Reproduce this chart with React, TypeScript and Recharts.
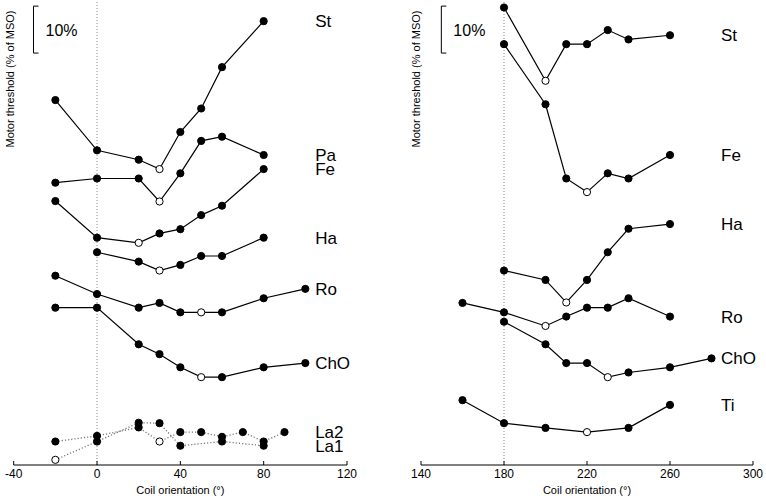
import React from 'react';
import { LineChart, Line, XAxis, YAxis, ReferenceLine, ReferenceDot } from 'recharts';

// Coil orientation (deg) for each series
const leftAnglesMain = [-20, 0, 20, 30, 40, 50, 60, 80];
const leftAnglesHa = [0, 20, 30, 40, 50, 60, 80];
const leftAnglesRoChO = [-20, 0, 20, 30, 40, 50, 60, 80, 100];
const leftAnglesLa2 = [-20, 0, 20, 30, 40, 50, 60, 70, 80, 90];
const leftAnglesLa1 = [-20, 0, 20, 30, 40, 60, 80];

const rightAnglesMain = [180, 200, 210, 220, 230, 240, 260];
const rightAnglesRo = [160, 180, 200, 210, 220, 230, 240, 260];
const rightAnglesChO = [180, 200, 210, 220, 230, 240, 260, 280];
const rightAnglesTi = [160, 180, 200, 220, 240, 260];

// Motor threshold (% of MSO), curves offset vertically
const leftSt = [77.7, 67.0, 65.0, 63.0, 70.9, 75.9, 84.7, 94.5];
const leftPa = [60.1, 61.0, 61.0, 56.1, 62.1, 69.0, 69.9, 66.0];
const leftFe = [56.2, 48.4, 47.3, 49.3, 50.2, 53.2, 55.2, 63.0];
const leftHa = [45.3, 43.3, 41.4, 42.6, 44.5, 44.5, 48.4];
const leftRo = [40.3, 36.4, 33.5, 34.5, 32.5, 32.5, 32.5, 35.5, 37.5];
const leftChO = [33.5, 33.5, 25.7, 23.6, 20.8, 18.7, 18.7, 20.8, 21.7];
const leftLa2 = [5.0, 6.2, 8.0, 5.0, 7.0, 7.0, 6.0, 7.0, 5.0, 7.0];
const leftLa1 = [1.1, 5.0, 9.0, 8.9, 4.1, 5.0, 4.1];

const rightSt = [97.4, 81.8, 89.6, 89.6, 92.6, 90.6, 91.5];
const rightFe = [89.6, 76.8, 61.0, 58.1, 62.1, 61.0, 66.0];
const rightHa = [41.4, 39.4, 34.6, 39.4, 45.3, 50.3, 51.3];
const rightRo = [34.5, 32.5, 29.6, 31.6, 33.5, 33.5, 35.5, 31.6];
const rightChO = [30.5, 25.7, 21.7, 21.7, 18.7, 19.7, 20.8, 22.7];
const rightTi = [13.8, 8.9, 7.9, 7.0, 7.9, 12.8];

// orientation with the lowest threshold (open marker)
const leftMinAt = { St: 30, Pa: 30, Fe: 20, Ha: 30, Ro: 50, ChO: 50, La2: 30, La1: -20 };
const rightMinAt = { St: 200, Fe: 220, Ha: 210, Ro: 200, ChO: 230, Ti: 220 };

const leftTicks = [-40, 0, 40, 80, 120];
const rightTicks = [140, 180, 220, 260, 300];

type Series = { name: string; data: { x: number; y: number }[]; minAt: number; dotted?: boolean };

const build = (name: string, xs: number[], ys: number[], minAt: number, dotted = false): Series => ({
  name,
  data: xs.map((x, i) => ({ x, y: ys[i] })),
  minAt,
  dotted,
});

const leftSeries: Series[] = [
  build('St', leftAnglesMain, leftSt, leftMinAt.St),
  build('Pa', leftAnglesMain, leftPa, leftMinAt.Pa),
  build('Fe', leftAnglesMain, leftFe, leftMinAt.Fe),
  build('Ha', leftAnglesHa, leftHa, leftMinAt.Ha),
  build('Ro', leftAnglesRoChO, leftRo, leftMinAt.Ro),
  build('ChO', leftAnglesRoChO, leftChO, leftMinAt.ChO),
  build('La2', leftAnglesLa2, leftLa2, leftMinAt.La2, true),
  build('La1', leftAnglesLa1, leftLa1, leftMinAt.La1, true),
];

const rightSeries: Series[] = [
  build('St', rightAnglesMain, rightSt, rightMinAt.St),
  build('Fe', rightAnglesMain, rightFe, rightMinAt.Fe),
  build('Ha', rightAnglesMain, rightHa, rightMinAt.Ha),
  build('Ro', rightAnglesRo, rightRo, rightMinAt.Ro),
  build('ChO', rightAnglesChO, rightChO, rightMinAt.ChO),
  build('Ti', rightAnglesTi, rightTi, rightMinAt.Ti),
];

const FONT = '"Liberation Sans", Arial, Helvetica, sans-serif';

const AxisTick = (props: any) => {
  const { x, y, payload } = props;
  return (
    <g>
      <line x1={x} x2={x} y1={y} y2={y - 4} stroke="#000" strokeWidth={1} />
      <text x={x} y={y + 13} textAnchor="middle" fontSize={12} fontFamily={FONT} fill="#000">
        {payload.value}
      </text>
    </g>
  );
};

interface PanelProps {
  series: Series[];
  domain: [number, number];
  ticks: number[];
  centre: number;
  labelX: number;
  barX: number;
  barTick: number;
  margin: { top: number; right: number; left: number; bottom: number };
}

const Panel: React.FC<PanelProps> = ({ series, domain, ticks, centre, labelX, barX, barTick, margin }) => (
  <LineChart width={383} height={498} margin={margin}>
    <XAxis
      type="number"
      dataKey="x"
      domain={domain}
      ticks={ticks}
      allowDataOverflow
      height={33}
      tickLine={false}
      tickSize={0}
      tickMargin={0}
      tick={<AxisTick />}
      axisLine={{ stroke: '#000', strokeWidth: 1 }}
      label={{ value: 'Coil orientation (°)', position: 'insideBottom', offset: 4, fontSize: 11, fontFamily: FONT, fill: '#000' }}
    />
    <YAxis type="number" domain={[0, 99]} hide allowDataOverflow />
    <ReferenceLine x={centre} stroke="#888" strokeDasharray="1 2" strokeWidth={1} />
    {/* 10% scale bar */}
    <ReferenceLine segment={[{ x: barX, y: 87.7 }, { x: barX, y: 97.7 }]} stroke="#000" strokeWidth={1} />
    <ReferenceLine segment={[{ x: barX, y: 97.7 }, { x: barX + barTick, y: 97.7 }]} stroke="#000" strokeWidth={1} />
    <ReferenceLine segment={[{ x: barX, y: 87.7 }, { x: barX + barTick, y: 87.7 }]} stroke="#000" strokeWidth={1} />
    <ReferenceDot
      x={barX}
      y={92.7}
      r={0}
      fill="none"
      stroke="none"
      label={(p: any) => (
        <text x={p.viewBox.x + 12} y={p.viewBox.y + 6} fontSize={16} fontFamily={FONT} fill="#000">
          10%
        </text>
      )}
    />
    {series.map((s) => (
      <Line
        key={s.name}
        data={s.data}
        dataKey="y"
        type="linear"
        stroke={s.dotted ? '#777' : '#000'}
        strokeWidth={s.dotted ? 1.3 : 1.2}
        strokeDasharray={s.dotted ? '1.2 2' : undefined}
        isAnimationActive={false}
        dot={(p: any) => (
          <circle
            key={`${s.name}-${p.index}`}
            cx={p.cx}
            cy={p.cy}
            r={3.6}
            fill={p.payload.x === s.minAt ? '#fff' : '#000'}
            stroke="#000"
            strokeWidth={1}
          />
        )}
        activeDot={false}
      />
    ))}
    {series.map((s) => (
      <ReferenceDot
        key={`lbl-${s.name}`}
        x={labelX}
        y={s.data[s.data.length - 1].y}
        r={0}
        fill="none"
        stroke="none"
        label={(p: any) => (
          <text x={p.viewBox.x} y={p.viewBox.y + 6} fontSize={17} fontFamily={FONT} fill="#000">
            {s.name}
          </text>
        )}
      />
    ))}
  </LineChart>
);

const yLabelStyle = (left: number): React.CSSProperties => ({
  position: 'absolute',
  left,
  top: 79,
  width: 0,
  height: 0,
  fontFamily: FONT,
  fontSize: 11,
  whiteSpace: 'nowrap',
});

const YLabel: React.FC<{ left: number }> = ({ left }) => (
  <div style={yLabelStyle(left)}>
    <div style={{ position: 'absolute', transform: 'translate(-50%, -50%) rotate(-90deg)' }}>
      Motor threshold (% of MSO)
    </div>
  </div>
);

export default function App() {
  return (
    <div style={{ position: 'absolute', left: 0, top: 0, width: 766, height: 498, background: '#fff' }}>
      <div style={{ position: 'absolute', left: 0, top: 0 }}>
        <Panel
          series={leftSeries}
          domain={[-40, 120]}
          ticks={leftTicks}
          centre={0}
          labelX={104.7}
          barX={-30.5}
          barTick={2.4}
          margin={{ top: 0, right: 36, left: 13.7, bottom: 0 }}
        />
      </div>
      <div style={{ position: 'absolute', left: 383, top: 0 }}>
        <Panel
          series={rightSeries}
          domain={[140, 300]}
          ticks={rightTicks}
          centre={180}
          labelX={284.6}
          barX={149.8}
          barTick={2.4}
          margin={{ top: 0, right: 13, left: 38, bottom: 0 }}
        />
      </div>
      <YLabel left={10} />
      <YLabel left={416} />
    </div>
  );
}
